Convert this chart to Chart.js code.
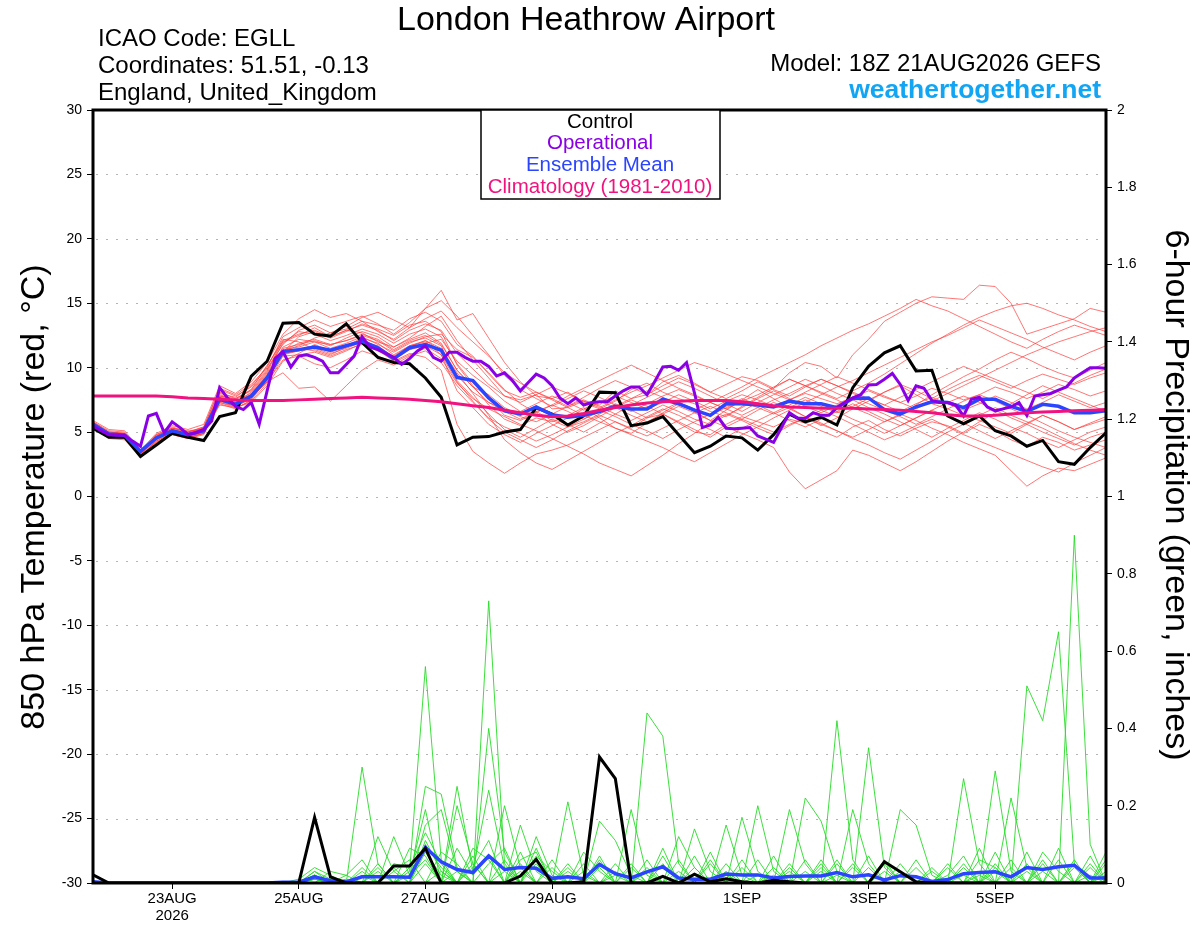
<!DOCTYPE html>
<html><head><meta charset="utf-8">
<script src="https://cdn.jsdelivr.net/npm/chart.js@4/dist/chart.umd.min.js"></script>
<style>html,body{margin:0;padding:0;background:#fff}canvas{display:block}</style>
</head><body>
<canvas id="c" width="1200" height="927"></canvas>
<script>
// ---------- DATA ----------
const xTickHours = [30, 78, 126, 174, 246, 294, 342];
const xTickLabels = [['23AUG','2026'], '25AUG', '27AUG', '29AUG', '1SEP', '3SEP', '5SEP'];

// 850 hPa temperature, 6-hourly (65 steps from 18Z 21AUG)
const controlTemp = [5.3,4.6,4.6,3.1,4.0,4.9,4.6,4.35,6.2,6.5, 9.35,10.5,13.45,13.5,12.6,12.45,13.4,11.95,10.8,10.4, 10.3,9.2,7.7,4.0,4.6,4.65,5.0,5.2,6.9,6.4, 5.55,6.25,8.1,8.05,5.5,5.7,6.2,4.8,3.4,3.9, 4.7,4.55,3.6,4.8,6.4,5.8,6.15,5.55,8.45,10.1, 11.15,11.7,9.75,9.8,6.25,5.65,6.25,5.1,4.7,3.9, 4.35,2.7,2.5,3.8,4.95];
const meanTemp = [5.6,4.85,4.75,3.5,4.55,5.1,4.8,5.1,7.55,7.15, 7.8,9.2,11.25,11.4,11.6,11.35,11.7,12.05,11.55,10.7, 11.55,11.8,11.35,9.25,9.0,7.65,6.65,6.4,6.95,6.35, 6.15,6.3,6.6,7.0,6.8,6.8,7.55,7.2,6.7,6.3, 7.2,7.2,7.1,6.95,7.4,7.2,7.2,6.9,7.6,7.65, 6.75,6.4,6.95,7.35,7.3,6.9,7.55,7.55,7.0,6.6, 7.15,7.0,6.5,6.5,6.65];
const climTemp = [7.8,7.8,7.8,7.8,7.8,7.75,7.65,7.6,7.55,7.5, 7.45,7.45,7.45,7.5,7.55,7.6,7.65,7.7,7.65,7.6, 7.55,7.45,7.35,7.2,7.05,6.9,6.7,6.5,6.3,6.2, 6.25,6.45,6.7,6.9,7.1,7.25,7.35,7.4,7.45,7.45, 7.45,7.35,7.2,7.05,6.95,6.9,6.85,6.85,6.85,6.8, 6.75,6.7,6.6,6.5,6.35,6.25,6.25,6.3,6.4,6.5, 6.55,6.6,6.65,6.7,6.75];
// operational run, 3-hourly (129 steps)
const operationalTemp = [5.47,5.1,4.8,4.75,4.75,4.3,3.9,6.25,6.45,4.95, 5.8,5.35,4.8,4.95,5.2,5.85,8.45,7.65,7.0,6.75, 7.3,5.6,8.2,10.7,11.25,10.05,10.9,11.0,10.8,10.5, 9.6,9.6,10.25,10.9,12.4,11.6,11.4,11.1,10.8,10.25, 10.7,11.3,11.7,10.8,10.5,11.2,11.2,10.8,10.5,10.5, 10.1,9.35,9.6,9.0,8.2,8.85,9.5,9.2,8.6,7.65, 7.2,7.65,7.1,7.3,7.35,7.35,7.8,8.2,8.5,8.5, 7.9,8.95,10.05,10.1,9.8,10.4,8.05,5.35,5.55,6.15, 5.3,5.25,5.3,5.35,4.7,4.45,4.2,5.35,6.5,6.1, 6.05,6.5,6.3,6.3,6.9,7.3,7.65,7.9,8.65,8.7, 9.1,9.55,8.7,7.45,8.6,8.4,7.45,7.3,7.3,7.1, 6.25,7.55,7.7,6.95,6.65,6.8,6.95,7.3,6.3,7.8, 7.9,8.0,8.25,8.5,9.2,9.6,10.0,10.0,9.95];

const memberTemp01 = [5.8,5.0,4.9,3.3,4.8,5.4,5.0,5.3,7.9,7.5, 8.3,10.2,12.0,12.5,13.1,12.4,12.9,12.7,12.0,11.6, 12.3,13.2,14.0,12.1,10.6,9.2,7.8,7.5,7.9,6.8, 6.9,7.4,7.1,8.2,7.6,7.9,8.9,9.4,8.8,8.1, 8.7,9.3,9.0,8.4,9.6,10.4,10.1,9.2,11.0,12.2, 13.6,14.3,15.0,15.5,15.4,15.3,16.4,16.3,15.0,12.6, 13.0,13.4,13.8,14.6,14.3];
const memberTemp02 = [5.4,4.6,4.5,3.2,4.3,4.9,4.6,4.9,7.1,6.9, 7.4,8.8,10.9,11.0,11.2,10.8,11.3,11.9,11.4,10.5, 11.1,10.8,9.8,5.6,3.5,2.6,1.8,2.6,3.3,3.6, 4.0,4.6,5.2,5.8,5.3,6.1,6.4,5.7,5.0,4.8, 5.6,6.2,5.8,5.4,6.0,5.7,5.1,4.6,5.4,5.9, 5.2,4.7,5.3,5.8,5.5,4.9,5.6,5.1,4.4,3.9, 4.6,4.2,3.6,4.0,4.4];
const memberTemp03 = [5.9,5.2,5.1,3.6,4.9,5.5,5.2,5.6,8.6,8.0, 8.9,10.4,12.6,13.8,14.5,13.9,14.2,13.6,12.8,12.2, 13.1,14.6,16.0,13.7,14.2,12.3,10.4,8.9,7.8,7.6, 8.1,7.3,6.8,7.4,8.3,8.8,8.1,7.6,7.2,6.6, 6.2,7.0,7.7,8.4,9.1,8.6,8.0,7.5,6.9,6.4, 5.8,6.3,7.1,7.9,8.6,9.3,9.9,10.6,11.2,10.7, 10.1,9.6,9.2,9.8,10.4];
const memberTemp04 = [5.5,4.7,4.6,3.0,4.2,4.8,4.5,4.8,7.3,7.0, 7.6,9.0,11.2,12.4,12.8,12.3,12.8,13.4,13.0,12.5, 13.3,13.6,12.8,10.2,8.6,7.1,6.0,5.5,6.1,5.8, 6.3,6.9,6.1,5.3,4.9,5.7,6.5,7.2,6.6,5.9, 6.7,7.5,8.3,7.6,6.9,6.2,5.5,6.1,6.8,7.4, 8.1,8.6,7.9,7.2,6.8,6.3,5.9,5.4,4.9,5.6, 6.3,5.8,5.2,5.7,6.2];
const memberTemp05 = [5.7,4.9,4.8,3.4,4.6,5.1,4.9,5.0,7.6,7.3, 8.1,9.6,11.5,11.8,12.1,11.7,12.3,12.8,12.4,11.6, 12.2,12.7,11.9,9.8,8.5,7.9,6.9,6.3,6.6,5.9, 5.4,5.8,6.4,7.0,7.6,8.2,7.7,7.1,6.7,7.3, 7.9,8.5,9.2,9.8,10.4,11.0,11.7,12.3,12.9,13.4, 14.0,14.6,15.3,14.8,14.4,13.8,13.2,12.6,12.0,11.5, 12.2,12.8,13.3,12.9,12.5];
const memberTemp06 = [5.3,4.5,4.4,3.1,4.4,5.0,4.7,5.2,7.8,7.4, 7.9,9.4,11.6,12.2,12.0,11.5,11.9,12.4,11.8,11.2, 11.9,12.4,12.6,11.4,10.8,9.6,8.3,7.2,6.5,5.6, 5.0,5.5,6.2,6.9,7.5,7.0,6.4,5.8,5.2,4.6, 5.4,6.0,6.7,7.3,6.8,6.2,5.7,5.1,4.5,4.0, 3.4,2.9,3.6,4.3,5.0,5.6,6.3,6.9,6.3,5.8, 5.3,4.7,4.1,3.6,3.2];
const memberTemp07 = [5.6,4.8,4.7,3.5,4.5,5.2,4.8,5.1,7.4,7.2, 7.7,8.9,10.6,10.9,10.3,10.0,10.6,11.3,10.9,10.4, 11.0,11.5,10.7,8.8,7.6,6.8,6.2,5.6,5.1,4.5, 3.9,3.3,2.6,2.1,1.6,2.4,3.2,4.1,4.9,5.8, 6.4,5.9,5.3,4.8,5.5,6.1,6.7,6.2,5.6,5.0, 4.4,4.9,5.5,6.0,5.4,4.8,4.3,3.8,3.3,2.8, 2.3,1.9,2.6,3.2,3.8];
const memberTemp08 = [5.5,4.8,4.6,3.3,4.4,5.0,4.6,4.9,7.2,6.8, 7.5,9.1,11.0,11.3,11.7,11.2,11.6,12.2,11.6,10.9, 11.7,12.0,11.0,8.2,6.9,5.6,4.8,4.2,4.9,5.5, 6.1,6.8,7.4,6.9,6.3,5.8,6.4,7.0,6.5,5.9, 5.4,4.9,4.4,3.8,1.9,0.6,1.3,2.0,3.6,3.2, 2.6,2.0,2.7,3.5,4.3,5.0,5.8,6.5,7.2,7.9, 8.6,8.1,7.6,7.1,6.6];
const memberTemp09 = [5.6,4.9,4.8,3.6,4.7,5.3,5.0,5.4,8.3,7.8, 8.5,9.9,11.8,12.9,13.3,12.7,13.0,13.6,13.3,12.9, 13.8,14.3,13.6,11.8,10.9,9.5,8.2,7.7,8.1,7.6, 7.0,7.7,8.4,9.0,8.5,7.9,8.6,9.2,8.7,8.1, 7.6,8.2,8.9,8.3,7.8,8.5,9.1,8.6,8.0,7.5, 8.1,8.7,8.2,7.6,8.3,8.9,9.4,8.9,8.4,9.0, 9.5,9.1,8.7,9.2,9.6];
const memberTemp10 = [5.7,5.0,4.9,3.2,4.6,5.2,4.9,5.3,7.7,7.4, 8.0,9.5,11.4,11.6,12.0,11.8,12.1,12.5,12.1,11.3, 12.0,12.3,11.7,9.0,7.7,6.4,5.2,4.6,5.3,6.0, 5.6,5.0,5.7,6.4,7.1,7.7,8.3,8.9,8.4,7.8, 7.2,6.6,7.3,7.9,8.5,9.1,8.6,8.0,7.5,6.9, 6.4,5.8,5.2,4.6,5.3,5.9,6.5,6.0,5.4,4.9, 4.3,3.8,4.4,5.0,5.4];
const memberTemp11 = [5.4,4.7,4.6,3.3,4.5,5.0,4.7,5.0,7.4,7.0, 7.6,9.3,11.1,11.3,11.5,11.1,11.5,12.0,11.7,10.8, 11.4,11.9,12.2,10.5,9.4,8.5,7.4,6.6,7.2,7.8, 7.3,6.7,7.3,7.8,7.3,6.8,7.3,7.9,7.4,6.8, 7.4,7.9,7.5,7.0,7.5,8.0,7.6,7.2,7.7,8.2, 7.7,7.3,7.8,8.4,8.0,7.5,7.9,8.5,8.1,7.6, 8.1,8.7,8.3,7.8,8.2];
const memberTemp12 = [5.8,5.1,5.0,3.4,4.7,5.3,5.1,5.2,7.8,7.6, 8.2,9.7,11.9,12.8,12.6,12.1,12.5,13.0,12.6,11.9, 12.6,13.0,12.4,10.3,8.8,7.6,6.3,5.9,6.5,7.1, 7.8,8.4,9.0,9.6,10.2,9.6,9.0,8.4,7.9,7.3, 6.8,7.4,7.9,8.5,9.1,8.6,8.1,7.6,8.2,8.8, 9.5,10.3,11.1,11.9,12.6,13.3,13.9,14.4,14.8,15.0, 14.6,14.1,13.7,13.2,12.8];
const memberTemp13 = [5.5,4.7,4.6,3.1,4.3,4.9,4.6,4.9,7.5,7.1, 7.7,8.9,9.6,8.4,8.5,7.4,8.6,9.8,10.6,10.2, 10.9,11.3,10.4,8.6,7.3,6.1,5.4,4.9,4.3,4.8, 5.4,6.0,6.7,6.2,5.6,5.1,4.5,5.2,5.8,6.4, 7.0,7.6,7.1,6.5,5.9,5.4,6.0,6.6,7.2,6.6, 6.0,5.5,6.1,6.7,6.2,5.7,5.1,4.5,5.1,5.7, 6.3,5.8,5.2,5.6,6.0];
const memberTemp14 = [5.6,4.8,4.7,3.4,4.6,5.1,4.8,5.2,8.0,7.7, 8.6,10.1,12.2,12.0,11.4,11.0,11.6,12.2,11.5,10.8, 11.6,12.1,11.3,9.4,8.1,7.3,6.8,6.2,5.8,6.4, 7.0,7.5,7.0,6.4,5.9,6.5,7.1,6.6,6.0,5.6, 6.3,6.9,7.6,8.2,7.6,7.0,6.5,7.1,7.7,7.2, 6.7,6.2,5.6,6.2,6.8,7.4,7.9,7.4,6.8,6.3, 5.7,5.1,4.6,4.2,3.8];
const memberTemp15 = [5.7,4.9,4.8,3.5,4.5,5.2,4.9,5.1,7.6,7.3, 7.9,9.4,11.3,11.7,12.3,12.7,13.2,13.9,14.3,13.7, 13.1,13.8,14.4,13.1,12.0,10.9,9.6,8.8,8.1,7.5, 6.9,6.3,5.8,5.3,4.8,4.3,3.8,3.2,2.7,3.4, 4.1,4.8,5.4,6.1,6.7,7.3,7.9,8.5,9.0,9.6, 10.2,10.8,11.4,12.0,12.5,13.1,13.7,13.2,12.7,12.2, 11.6,11.1,10.6,11.2,11.7];
const memberTemp16 = [5.4,4.6,4.5,3.2,4.2,4.8,4.5,4.9,7.3,6.9, 7.3,8.6,10.5,11.1,11.8,11.3,11.7,12.3,11.9,11.0, 11.7,12.1,11.5,9.6,8.0,6.3,4.4,3.4,2.6,2.1, 2.8,3.5,4.2,4.9,5.5,6.2,6.8,6.3,5.7,5.2, 4.6,5.3,5.9,6.5,7.1,7.7,7.2,6.6,6.0,5.5, 4.9,5.5,6.1,6.7,7.3,7.8,7.3,6.7,6.1,5.6, 5.0,4.5,4.0,4.6,5.0];
const memberTemp17 = [5.6,4.9,4.8,3.4,4.7,5.2,4.9,5.3,8.1,7.6, 8.3,9.8,12.1,12.6,12.9,12.4,12.9,13.3,12.9,12.1, 12.9,13.4,12.9,11.1,9.9,8.7,7.8,7.3,7.9,8.5, 8.0,7.4,6.9,7.5,8.1,8.6,9.2,9.8,10.4,10.0, 9.5,9.0,8.5,8.0,7.5,8.1,8.7,9.3,8.8,8.3, 7.8,7.3,6.8,7.4,8.0,8.6,9.2,9.8,10.4,11.0, 11.5,12.0,12.4,12.8,13.1];
const memberTemp18 = [5.5,4.8,4.7,3.3,4.5,5.0,4.7,5.0,7.5,7.1, 7.8,9.2,11.0,11.5,11.3,10.9,11.4,11.8,11.3,10.6, 11.4,11.7,11.0,8.9,7.4,6.0,5.0,4.4,3.8,4.4, 5.1,5.7,6.3,5.8,5.2,4.7,5.3,5.9,6.5,7.0, 6.5,6.0,5.5,5.0,5.6,6.1,5.6,5.1,4.6,5.2, 5.8,6.4,5.9,5.3,4.8,4.2,3.7,3.2,2.0,0.8, 1.6,2.2,2.0,2.5,3.0];
const memberTemp19 = [5.7,5.0,4.9,3.5,4.8,5.3,5.0,5.4,8.4,7.9, 8.7,10.0,12.4,13.1,13.7,13.2,13.6,14.0,13.4,12.6, 13.5,14.6,15.2,14.0,12.5,11.0,9.4,8.3,7.6,7.0, 7.6,8.2,7.7,7.1,6.6,7.2,7.8,8.3,7.8,7.3, 6.8,6.3,6.9,7.5,8.0,8.6,9.1,8.6,8.1,7.6, 7.1,7.7,8.3,8.9,9.5,10.1,9.6,9.1,8.6,8.1, 7.6,8.2,8.8,9.4,9.9];
const memberTemp20 = [5.6,4.8,4.7,3.4,4.5,5.1,4.8,5.1,7.7,7.3, 7.9,9.4,11.3,11.9,12.2,11.8,12.1,12.6,12.2,11.4, 12.1,12.5,11.8,9.8,8.5,7.3,6.6,6.0,6.6,7.1, 6.6,6.0,6.6,7.2,6.7,6.1,6.7,7.3,6.8,6.3, 6.9,7.4,6.9,6.4,6.9,7.5,7.0,6.5,7.0,7.6, 7.1,6.6,7.2,7.7,7.2,6.7,7.2,7.8,7.3,6.8, 7.3,7.9,7.4,6.9,7.3];

// 6-hour precipitation (inches), 6-hourly
const controlPrecip = [0.021,0,0,0,0,0,0,0,0,0, 0,0,0,0,0.17,0.016,0,0,0,0.044, 0.044,0.09,0,0,0,0,0,0.018,0.061,0, 0,0.003,0.326,0.27,0,0,0.017,0,0.023,0.003, 0.011,0.003,0,0.007,0.003,0,0,0,0,0, 0.055,0.029,0.003,0,0,0,0,0,0,0, 0,0,0,0,0];
const meanPrecip = [0.003,0,0,0,0,0,0,0,0,0, 0,0,0.002,0.002,0.016,0.006,0.003,0.016,0.016,0.016, 0.015,0.092,0.055,0.035,0.027,0.07,0.035,0.04,0.038,0.012, 0.016,0.011,0.048,0.024,0.013,0.029,0.042,0.013,0.010,0.010, 0.023,0.021,0.021,0.013,0.017,0.018,0.018,0.027,0.016,0.021, 0.008,0.019,0.016,0.004,0.009,0.024,0.027,0.029,0.016,0.040, 0.035,0.042,0.046,0.013,0.013];

const memberPrecip01 = [0,0,0,0,0,0,0,0,0,0, 0,0,0,0,.03,.01,0,.30,.05,0, 0,.08,.02,0,0,.73,.05,0,0,0, .04,0,0,0,0,.44,.38,.05,0,0, 0,0,0,0,.03,0,0,.05,0,0, 0,0,0,0,0,.02,0,0,0,0, 0,0,.90,.10,0];
const memberPrecip02 = [0,0,0,0,0,0,0,0,0,0, 0,0,0,0,.02,0,0,0,0,0, .03,.56,.06,0,0,.40,.08,0,0,0, 0,0,.04,0,0,0,0,0,0,0, .15,.02,0,0,0,0,0,0,0,.35, .04,0,0,0,0,0,0,.29,.03,0, 0,0,0,0,.02];
const memberPrecip03 = [0,0,0,0,0,0,0,0,0,0, 0,0,0,.01,.04,.02,0,0,.12,.03, 0,.25,.23,.04,0,0,0,.15,.03,0, 0,0,0,0,.19,.02,0,0,0,0, 0,0,.20,.03,0,0,0,.42,.06,0, 0,0,0,0,0,0,0,0,0,.51, .42,.65,.05,0,0];
const memberPrecip04 = [0,0,0,0,0,0,0,0,0,0, 0,0,0,0,.02,0,0,0,0,.12, .02,.19,0,.25,.03,.24,.04,0,0,0, .21,.02,0,0,0,0,0,0,.14,.03, 0,0,0,0,0,.22,.16,.03,0,0, 0,0,0,0,0,.27,.05,0,0,0, 0,0,0,.05,0];
const memberPrecip05 = [0,0,0,0,0,0,0,0,0,0, 0,0,0,0,.01,0,.02,.06,0,0, 0,.15,.19,.03,0,0,.20,.04,0,0, 0,0,.16,.11,.02,0,0,0,0,0, 0,0,0,0,.19,.05,0,0,0,0, 0,.19,.15,.02,0,0,0,0,.22,.04, 0,0,0,0,.08];
const memberPrecip06 = [0,0,0,0,0,0,0,0,0,0, 0,0,0,0,.02,0,0,0,.04,0, .09,.07,0,.20,.05,0,0,0,.12,.02, 0,0,0,0,0,0,0,.12,.04,0, 0,.17,.03,0,0,0,0,0,.19,.05, 0,0,0,0,0,0,.06,.04,0,0, .08,.03,0,0,0];
const memberPrecip07 = [0,0,0,0,0,0,0,0,0,0, 0,0,0,0,0,.03,.02,0,.05,0, 0,.10,.04,0,.09,.06,0,0,.07,.03, 0,.08,.03,0,0,0,.09,0,0,.06, 0,0,0,.07,0,0,.04,0,0,0, .03,0,0,0,.02,.07,0,.05,0,.05, 0,0,.06,0,.05];
const memberPrecip08 = [0,0,0,0,0,0,0,0,0,0, 0,0,0,0,.01,0,0,.03,0,.05, .04,.13,.05,0,.04,.11,0,.06,.08,0, 0,0,0,.05,0,.06,0,0,.02,0, .05,0,.06,0,0,0,.03,0,0,.07, 0,0,.04,0,0,0,.09,0,.06,0, .03,0,0,.07,0];
const memberPrecip09 = [0,0,0,0,0,0,0,0,0,0, 0,0,0,0,.02,0,.01,0,0,.03, .06,0,.08,.05,0,0,.03,0,.09,0, .05,0,.06,0,.04,0,0,.03,0,.05, 0,.04,0,0,.05,0,0,.02,0,0, 0,.05,0,.03,0,.04,0,.08,0,0, 0,.06,0,0,.03];
const memberPrecip10 = [0,0,0,0,0,0,0,0,0,0, 0,0,0,0,.03,0,0,.02,0,0, .02,.06,0,.09,.02,.07,0,.03,0,.04, 0,.03,0,.02,0,0,.05,0,.04,0, .03,0,0,.04,0,.06,0,0,.04,0, .05,0,0,0,.04,0,.03,0,0,.08, 0,0,.04,0,0];
const memberPrecip11 = [0,0,0,0,0,0,0,0,0,0, 0,0,0,0,.02,0,0,0,.03,0, 0,.11,.03,0,0,.05,.09,0,.05,0, 0,0,.07,0,0,.03,0,0,0,.08, 0,0,.02,0,0,0,.06,0,0,.04, 0,0,.06,0,0,0,0,.03,0,0, .05,0,0,.02,0];
const memberPrecip12 = [0,0,0,0,0,0,0,0,0,0, 0,0,0,0,.01,.01,0,0,0,0, .04,.09,0,0,.07,0,0,.05,0,.06, 0,0,0,.03,0,0,.07,0,0,0, 0,.06,0,0,.04,0,0,.06,0,0, 0,.03,0,0,0,.05,0,0,.04,0, 0,.09,0,0,.06];
const memberPrecip13 = [0,0,0,0,0,0,0,0,0,0, 0,0,0,0,.02,0,0,0,0,.04, 0,.05,0,.03,0,0,.06,0,0,0, .03,0,0,0,.05,0,0,.06,0,0, .02,0,0,0,0,.03,0,0,.05,0, 0,0,0,.04,0,0,.02,0,0,.03, 0,0,.05,0,0];
const memberPrecip14 = [0,0,0,0,0,0,0,0,0,0, 0,0,0,0,.01,0,0,.04,0,0, 0,0,.03,0,.05,0,0,.08,0,0, 0,.05,0,0,0,.04,0,0,.07,0, 0,0,0,.02,0,0,.05,0,0,0, .06,0,0,0,.05,0,0,.04,0,0, .06,0,0,.04,0];

const memberTemps = [memberTemp01,memberTemp02,memberTemp03,memberTemp04,memberTemp05,memberTemp06,memberTemp07,memberTemp08,memberTemp09,memberTemp10,memberTemp11,memberTemp12,memberTemp13,memberTemp14,memberTemp15,memberTemp16,memberTemp17,memberTemp18,memberTemp19,memberTemp20];
const memberPrecips = [memberPrecip01,memberPrecip02,memberPrecip03,memberPrecip04,memberPrecip05,memberPrecip06,memberPrecip07,memberPrecip08,memberPrecip09,memberPrecip10,memberPrecip11,memberPrecip12,memberPrecip13,memberPrecip14];

// ---------- STYLE ----------
const FONT = "'Liberation Sans', Arial, Helvetica, sans-serif";
const C_OP = '#8a00e6', C_MEAN = '#2b44ff', C_CLIM = '#f0137f', C_CTRL = '#000000';
const six = arr => arr.map((v, i) => ({x: i * 6, y: v}));
const three = arr => arr.map((v, i) => ({x: i * 3, y: v}));

const datasets = [];
memberPrecips.forEach(a => datasets.push({data: six(a), yAxisID: 'yP', borderColor: 'rgba(40,220,40,0.9)', borderWidth: 1, order: 100}));
memberTemps.forEach(a => datasets.push({data: six(a), yAxisID: 'yT', borderColor: 'rgba(255,60,60,0.7)', borderWidth: 1, order: 90}));
datasets.push({data: six(meanPrecip), yAxisID: 'yP', borderColor: C_MEAN, borderWidth: 3.5, order: 6});
datasets.push({data: six(controlPrecip), yAxisID: 'yP', borderColor: C_CTRL, borderWidth: 3, order: 5});
datasets.push({data: six(controlTemp), yAxisID: 'yT', borderColor: C_CTRL, borderWidth: 3, order: 4});
datasets.push({data: six(meanTemp), yAxisID: 'yT', borderColor: C_MEAN, borderWidth: 3.5, order: 3});
datasets.push({data: three(operationalTemp), yAxisID: 'yT', borderColor: C_OP, borderWidth: 3, order: 2});
datasets.push({data: six(climTemp), yAxisID: 'yT', borderColor: C_CLIM, borderWidth: 3, order: 1});
datasets.forEach(d => { d.pointRadius = 0; d.tension = 0; d.fill = false; });

const tickGrid = {drawOnChartArea: false, drawTicks: true, tickLength: 6, color: '#000', lineWidth: 1};

const decor = {
  id: 'decor',
  beforeDatasetsDraw(chart) {
    const {ctx, chartArea: a, scales} = chart;
    ctx.save();
    ctx.strokeStyle = '#b4b4b4'; ctx.lineWidth = 1; ctx.setLineDash([2, 8]);
    scales.yT.ticks.forEach(t => {
      if (t.value <= scales.yT.min || t.value >= scales.yT.max) return;
      const py = Math.round(scales.yT.getPixelForValue(t.value)) + 0.5;
      ctx.beginPath(); ctx.moveTo(a.left + 3, py); ctx.lineTo(a.right - 2, py); ctx.stroke();
    });
    ctx.restore();
  },
  afterDraw(chart) {
    const {ctx, chartArea: a} = chart;
    ctx.save();
    // frame
    ctx.strokeStyle = '#000'; ctx.lineWidth = 3;
    ctx.strokeRect(a.left, a.top, a.right - a.left, a.bottom - a.top);
    // legend box
    ctx.fillStyle = '#fff'; ctx.fillRect(481, a.top, 239, 89);
    ctx.lineWidth = 1.5; ctx.strokeRect(481, a.top, 239, 89);
    ctx.font = `20.5px ${FONT}`; ctx.textAlign = 'center'; ctx.textBaseline = 'alphabetic';
    [['Control', C_CTRL, 127.5], ['Operational', C_OP, 148.5], ['Ensemble Mean', C_MEAN, 170.5], ['Climatology (1981-2010)', C_CLIM, 192.5]]
      .forEach(([t, c, y]) => { ctx.fillStyle = c; ctx.fillText(t, 600, y); });
    // header
    ctx.fillStyle = '#000';
    ctx.font = `34px ${FONT}`; ctx.textAlign = 'center';
    ctx.fillText('London Heathrow Airport', 586, 30);
    ctx.font = `24px ${FONT}`; ctx.textAlign = 'left';
    ctx.fillText('ICAO Code: EGLL', 98, 46);
    ctx.fillText('Coordinates: 51.51, -0.13', 98, 72.5);
    ctx.fillText('England, United_Kingdom', 98, 99.5);
    ctx.textAlign = 'right';
    ctx.fillText('Model: 18Z 21AUG2026 GEFS', 1101, 71);
    ctx.font = `bold 26.5px ${FONT}`; ctx.fillStyle = '#12a5f4';
    ctx.fillText('weathertogether.net', 1101, 97.5);
    // axis titles
    ctx.fillStyle = '#000'; ctx.font = `34px ${FONT}`; ctx.textAlign = 'center'; ctx.textBaseline = 'middle';
    ctx.save(); ctx.translate(35, 497); ctx.rotate(-Math.PI / 2);
    ctx.fillText('850 hPa Temperature (red, °C)', 0, 0); ctx.restore();
    ctx.save(); ctx.translate(1175, 495); ctx.rotate(Math.PI / 2);
    ctx.fillText('6-hour Precipitation (green, inches)', 0, 0); ctx.restore();
    ctx.restore();
  }
};

new Chart(document.getElementById('c'), {
  type: 'line',
  data: {datasets},
  plugins: [decor],
  options: {
    responsive: false, animation: false, devicePixelRatio: 1,
    layout: {padding: {top: 110, left: 0, right: 0, bottom: 0}},
    plugins: {legend: {display: false}, tooltip: {enabled: false}, title: {display: false}},
    scales: {
      x: {
        type: 'linear', min: 0, max: 384, position: 'bottom',
        afterBuildTicks: s => { s.ticks = xTickHours.map(v => ({value: v})); },
        afterFit: s => { s.height = 44; },
        grid: tickGrid, border: {display: false},
        ticks: {autoSkip: false, maxRotation: 0, padding: 2, color: '#000',
          font: {family: FONT, size: 15, lineHeight: 1.1},
          callback: (v, i) => xTickLabels[i]}
      },
      yT: {
        type: 'linear', position: 'left', min: -30, max: 30,
        afterFit: s => { s.width = 93; },
        grid: tickGrid, border: {display: false},
        ticks: {stepSize: 5, padding: 5, color: '#000', font: {family: FONT, size: 14}, callback: v => String(v)}
      },
      yP: {
        type: 'linear', position: 'right', min: 0, max: 2,
        afterFit: s => { s.width = 94; },
        grid: tickGrid, border: {display: false},
        ticks: {stepSize: 0.2, padding: 5, color: '#000', font: {family: FONT, size: 14}, callback: v => String(Number(v.toFixed(1)))}
      }
    }
  }
});
</script>
</body></html>
